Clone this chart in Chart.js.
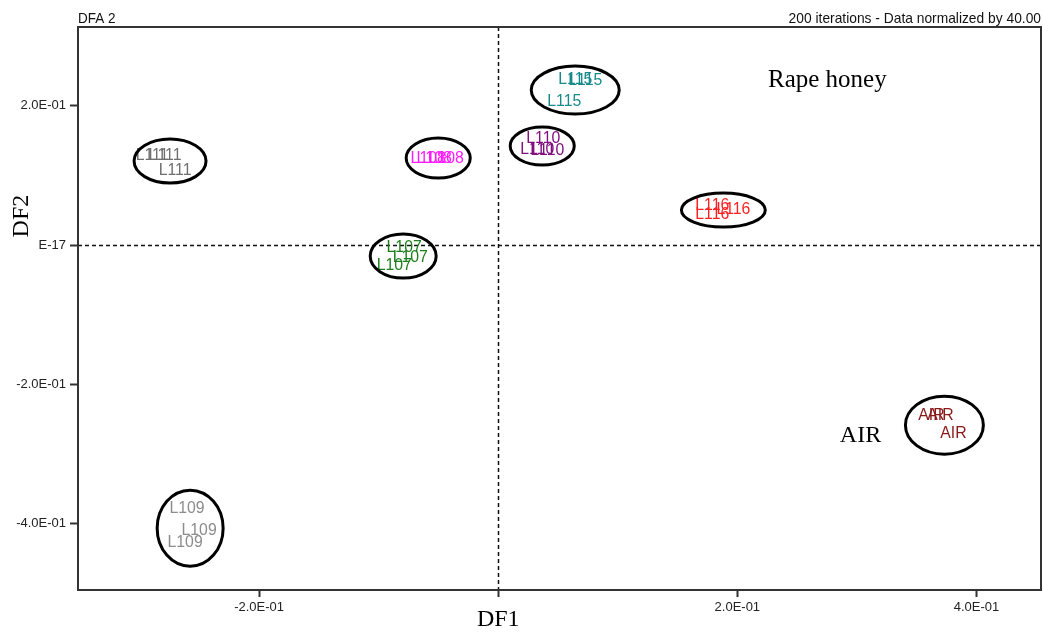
<!DOCTYPE html>
<html>
<head>
<meta charset="utf-8">
<script src="https://cdn.jsdelivr.net/npm/chart.js@4.4.1/dist/chart.umd.min.js"></script>
<style>
  html, body { margin: 0; padding: 0; background: #fff; }
  #wrap { width: 1043px; height: 634px; }
</style>
</head>
<body>
<div id="wrap"><canvas id="dfa" width="1043" height="634"></canvas></div>
<script>
// ---------------------------------------------------------------------
// Data (DF1 / DF2 scores, 3 replicates per sample)
// ---------------------------------------------------------------------
const GROUP_LABELS = ['L111', 'L108', 'L110', 'L115', 'L116', 'L107', 'AIR', 'L109'];

const DF1_VALUES = [
  [-0.2895, -0.2787, -0.2703],
  [-0.0586, -0.0536, -0.0435],
  [ 0.0377,  0.0326,  0.0410],
  [ 0.0644,  0.0728,  0.0552],
  [ 0.1790,  0.1790,  0.1967],
  [-0.0787, -0.0736, -0.0870],
  [ 0.3623,  0.3699,  0.3808],
  [-0.2603, -0.2502, -0.2619],
];
const DF2_VALUES = [
  [ 0.1290,  0.1290,  0.1080],
  [ 0.1250,  0.1250,  0.1250],
  [ 0.1536,  0.1378,  0.1364],
  [ 0.2383,  0.2369,  0.2067],
  [ 0.0574,  0.0445,  0.0517],
  [-0.0029, -0.0172, -0.0287],
  [-0.2441, -0.2441, -0.2700],
  [-0.3776, -0.4092, -0.4264],
];

// ellipses drawn round each group (centre + half-axes, data units)
const ELLIPSE_CX = [-0.2745, -0.0502, 0.0368, 0.0644, 0.1883, -0.0795,  0.3732, -0.2577];
const ELLIPSE_CY = [ 0.1206,  0.1249, 0.1421, 0.2225, 0.0503, -0.0158, -0.2584, -0.4063];
const ELLIPSE_RX = [ 0.0301,  0.0268, 0.0268, 0.0368, 0.0351,  0.0276,  0.0326,  0.0276];
const ELLIPSE_RY = [ 0.0316,  0.0287, 0.0273, 0.0345, 0.0244,  0.0316,  0.0416,  0.0546];

// free text annotations
const NOTE_TEXT = ['Rape honey', 'AIR'];
const NOTE_X    = [0.2753, 0.3030];
const NOTE_Y    = [0.2370, -0.2740];

// axes
const X_TICKS       = [-0.2, 0, 0.2, 0.4];
const X_TICK_LABELS = ['-2.0E-01', '', '2.0E-01', '4.0E-01'];
const Y_TICKS       = [0.2, 0, -0.2, -0.4];
const Y_TICK_LABELS = ['2.0E-01', 'E-17', '-2.0E-01', '-4.0E-01'];
const X_TITLE = 'DF1';
const Y_TITLE = 'DF2';

const HEADER_LEFT  = 'DFA 2';
const HEADER_RIGHT = '200 iterations - Data normalized by 40.00';

// ---------------------------------------------------------------------
const COLORS = ['#6f6f6f', '#ff1aff', '#80107f', '#198a8a', '#ff2020', '#1c7f1c', '#8a1a1a', '#8c8c8c'];
const SANS  = '"Liberation Sans", Arial, sans-serif';
const SERIF = '"Liberation Serif", "Times New Roman", serif';
const AXIS_COLOR = '#333';

const datasets = GROUP_LABELS.map((g, i) => ({
  label: g,
  data: DF1_VALUES[i].map((x, j) => ({ x, y: DF2_VALUES[i][j] })),
  pointRadius: 0,
  pointHoverRadius: 0,
  backgroundColor: COLORS[i],
  borderColor: COLORS[i],
}));

// narrow text: tall glyphs squeezed horizontally, like the original software
function narrowText(ctx, text, x, y, sx) {
  ctx.save();
  ctx.translate(x, y);
  ctx.scale(sx, 1);
  ctx.fillText(text, 0, 0);
  ctx.restore();
}

const overlay = {
  id: 'overlay',
  beforeDatasetsDraw(chart) {
    const { ctx, chartArea: a, scales: { x, y } } = chart;
    ctx.save();
    ctx.strokeStyle = '#111';
    ctx.lineWidth = 1.5;
    ctx.setLineDash([4, 3]);
    const x0 = Math.round(x.getPixelForValue(0)) + 0.5;
    const y0 = Math.round(y.getPixelForValue(0)) + 0.5;
    ctx.beginPath();
    ctx.moveTo(x0, a.top); ctx.lineTo(x0, a.bottom);
    ctx.moveTo(a.left, y0); ctx.lineTo(a.right, y0);
    ctx.stroke();
    ctx.restore();
  },
  afterDatasetsDraw(chart) {
    const { ctx, scales: { x, y } } = chart;
    ctx.save();

    // sample labels at each point
    ctx.font = '17px ' + SANS;
    ctx.textAlign = 'center';
    ctx.textBaseline = 'middle';
    chart.data.datasets.forEach((ds, i) => {
      ctx.fillStyle = COLORS[i];
      chart.getDatasetMeta(i).data.forEach(pt => narrowText(ctx, ds.label, pt.x, pt.y, 0.93));
    });

    // ellipses
    ctx.strokeStyle = '#000';
    ctx.lineWidth = 3;
    ELLIPSE_CX.forEach((cx, i) => {
      const px = x.getPixelForValue(cx);
      const py = y.getPixelForValue(ELLIPSE_CY[i]);
      const rx = Math.abs(x.getPixelForValue(cx + ELLIPSE_RX[i]) - px);
      const ry = Math.abs(y.getPixelForValue(ELLIPSE_CY[i] + ELLIPSE_RY[i]) - py);
      ctx.beginPath();
      ctx.ellipse(px, py, rx, ry, 0, 0, Math.PI * 2);
      ctx.stroke();
    });

    // annotations
    ctx.fillStyle = '#000';
    NOTE_TEXT.forEach((t, i) => {
      ctx.font = (i === 0 ? '25px ' : '24px ') + SERIF;
      ctx.fillText(t, x.getPixelForValue(NOTE_X[i]), y.getPixelForValue(NOTE_Y[i]));
    });
    ctx.restore();
  },
  afterDraw(chart) {
    const { ctx, chartArea: a, scales: { x, y } } = chart;
    ctx.save();
    ctx.strokeStyle = AXIS_COLOR;
    ctx.lineWidth = 2;
    ctx.strokeRect(a.left, a.top, a.right - a.left, a.bottom - a.top);

    // header lines
    ctx.fillStyle = '#111';
    ctx.font = '15px ' + SANS;
    ctx.textBaseline = 'alphabetic';
    ctx.textAlign = 'left';
    narrowText(ctx, HEADER_LEFT, a.left, a.top - 4, 0.9);
    ctx.textAlign = 'right';
    narrowText(ctx, HEADER_RIGHT, a.right, a.top - 4, 0.92);

    // axis titles (DF1 sits under the x = 0 line, DF2 a little above y = 0)
    ctx.fillStyle = '#000';
    ctx.font = '24px ' + SERIF;
    ctx.textAlign = 'center';
    ctx.textBaseline = 'middle';
    ctx.fillText(X_TITLE, x.getPixelForValue(0), 620);
    ctx.save();
    ctx.translate(22, y.getPixelForValue(0) - 29);
    ctx.rotate(-Math.PI / 2);
    ctx.fillText(Y_TITLE, 0, 0);
    ctx.restore();
    ctx.restore();
  }
};

new Chart(document.getElementById('dfa'), {
  type: 'scatter',
  data: { datasets },
  plugins: [overlay],
  options: {
    responsive: false,
    animation: false,
    devicePixelRatio: 1,
    layout: { padding: { top: 27, right: 2, left: 0, bottom: 0 } },
    plugins: { legend: { display: false }, tooltip: { enabled: false } },
    scales: {
      x: {
        type: 'linear',
        min: -0.3515,
        max: 0.454,
        afterFit: s => { s.height = 44; },
        afterBuildTicks: s => { s.ticks = X_TICKS.map(v => ({ value: v })); },
        ticks: {
          autoSkip: false, maxRotation: 0, padding: 3,
          color: '#222', font: { family: SANS, size: 13 },
          callback: (v, i) => X_TICK_LABELS[i],
        },
        grid: { drawOnChartArea: false, drawTicks: true, tickLength: 7, tickWidth: 2, tickColor: AXIS_COLOR },
        border: { display: true, color: AXIS_COLOR, width: 2 },
      },
      y: {
        type: 'linear',
        min: -0.495,
        max: 0.313,
        afterFit: s => { s.width = 78; },
        afterBuildTicks: s => { s.ticks = Y_TICKS.map(v => ({ value: v })); },
        ticks: {
          autoSkip: false, padding: 4,
          color: '#222', font: { family: SANS, size: 13 },
          callback: (v, i) => Y_TICK_LABELS[i],
        },
        grid: { drawOnChartArea: false, drawTicks: true, tickLength: 8, tickWidth: 2, tickColor: AXIS_COLOR },
        border: { display: true, color: AXIS_COLOR, width: 2 },
      },
    },
  },
});
</script>
</body>
</html>
